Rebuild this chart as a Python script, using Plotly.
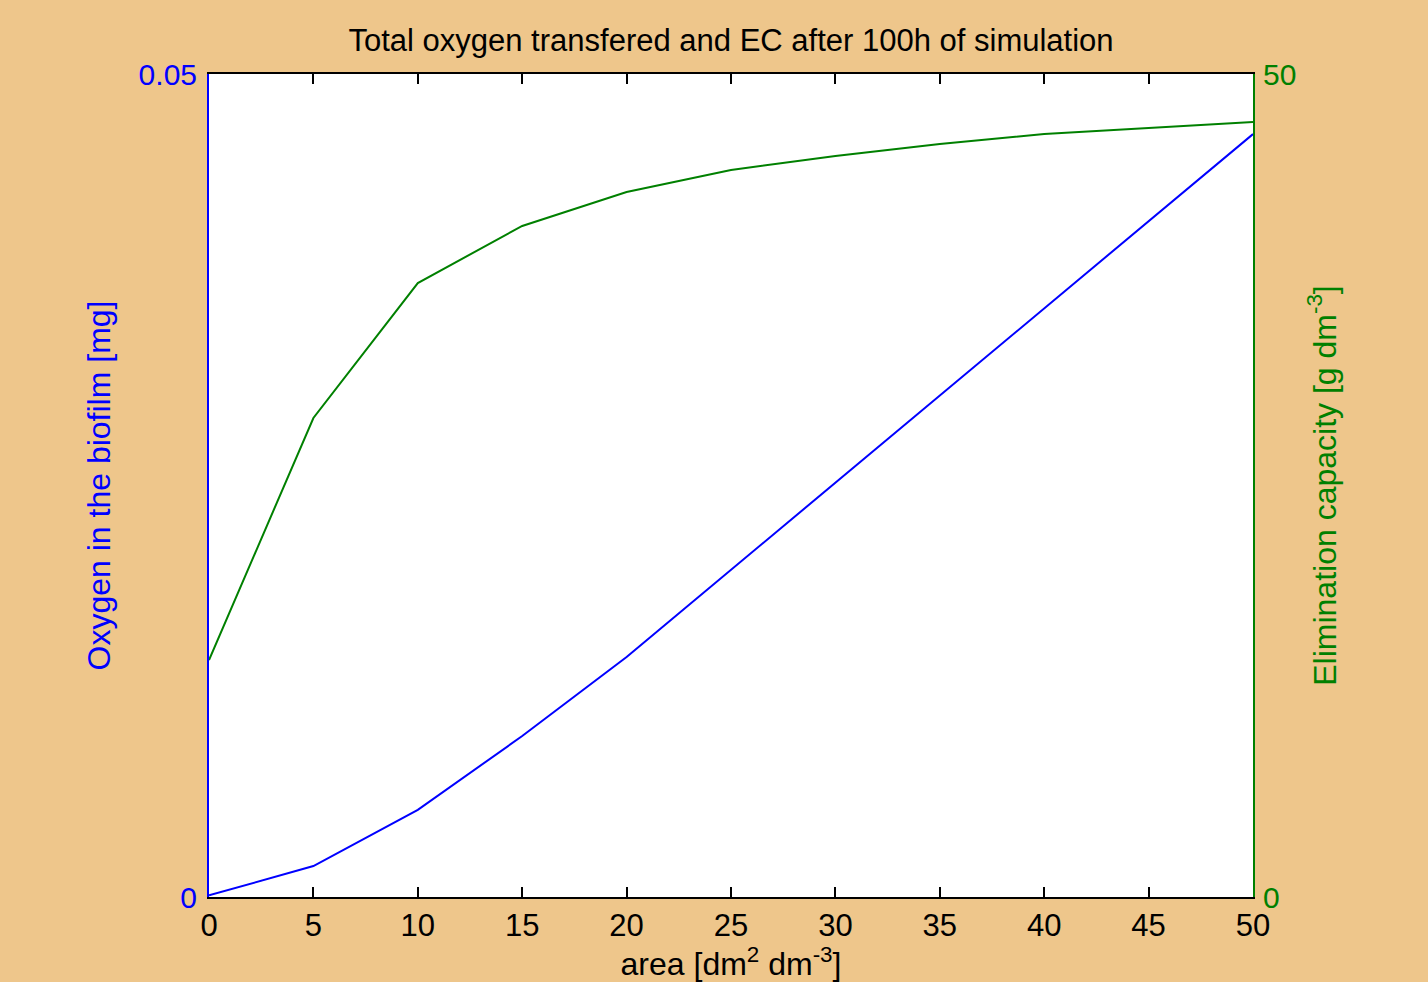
import plotly.graph_objects as go

# Specific surface area [dm^2 dm^-3]
area = [0, 5, 10, 15, 20, 25, 30, 35, 40, 45, 50]
# Total oxygen in the biofilm after 100 h [mg]
oxygen = [0.0001, 0.00188, 0.00529, 0.00978, 0.01458, 0.01987, 0.02515,
          0.03044, 0.03578, 0.04106, 0.04635]
# Elimination capacity after 100 h [g dm^-3]
ec = [14.4, 29.1, 37.3, 40.77, 42.83, 44.17, 45.02, 45.75, 46.35, 46.7, 47.08]

x_ticks = [0, 5, 10, 15, 20, 25, 30, 35, 40, 45, 50]

BLUE = "#0000FF"
GREEN = "#008000"
FONT = "Liberation Sans, Arial, sans-serif"

fig = go.Figure()
fig.add_trace(go.Scatter(x=area, y=oxygen, mode="lines",
                         line=dict(color=BLUE, width=2), yaxis="y",
                         showlegend=False))
fig.add_trace(go.Scatter(x=area, y=ec, mode="lines",
                         line=dict(color=GREEN, width=2), yaxis="y2",
                         showlegend=False))

fig.update_layout(
    width=1428, height=982,
    paper_bgcolor="#EEC68B",
    plot_bgcolor="white",
    margin=dict(l=209, r=175, t=74, b=85, autoexpand=False),
    font=dict(family=FONT, size=30, color="black"),
    title=dict(text="Total oxygen transfered and EC after 100h of simulation",
               xref="paper", x=0.5, xanchor="center",
               y=1 - 40 / 982, yanchor="middle",
               font=dict(size=31, color="black")),
    xaxis=dict(range=[0, 50], tickvals=x_ticks, ticks="inside", ticklen=10,
               tickwidth=2, tickcolor="black", showline=True, linecolor="black",
               linewidth=2, mirror="ticks", showgrid=False, zeroline=False,
               ticklabelstandoff=0, automargin=False,
               tickfont=dict(size=31, color="black"),
               title=dict(text="area [dm<sup>2</sup> dm<sup>-3</sup>]",
                          standoff=15, font=dict(size=32, color="black"))),
    yaxis=dict(range=[0, 0.05], tickvals=[0, 0.05], ticktext=["0", "0.05"],
               ticks="inside", ticklen=10, tickwidth=2, tickcolor=BLUE,
               showline=True, linecolor=BLUE, linewidth=2, showgrid=False,
               zeroline=False, automargin=False, ticklabelstandoff=4,
               tickfont=dict(size=30, color=BLUE),
               title=dict(text="Oxygen in the biofilm [mg]", standoff=18,
                          font=dict(size=32, color=BLUE))),
    yaxis2=dict(range=[0, 50], tickvals=[0, 50], ticktext=["0", "50"],
                overlaying="y", side="right", ticks="inside", ticklen=10,
                tickwidth=2, tickcolor=GREEN, showline=True, linecolor=GREEN,
                linewidth=2, showgrid=False, zeroline=False, automargin=False,
                ticklabelstandoff=2,
                tickfont=dict(size=30, color=GREEN),
                title=dict(text="Elimination capacity [g dm<sup>-3</sup>]",
                           standoff=18, font=dict(size=32, color=GREEN))),
)

fig.write_html("out.html")
